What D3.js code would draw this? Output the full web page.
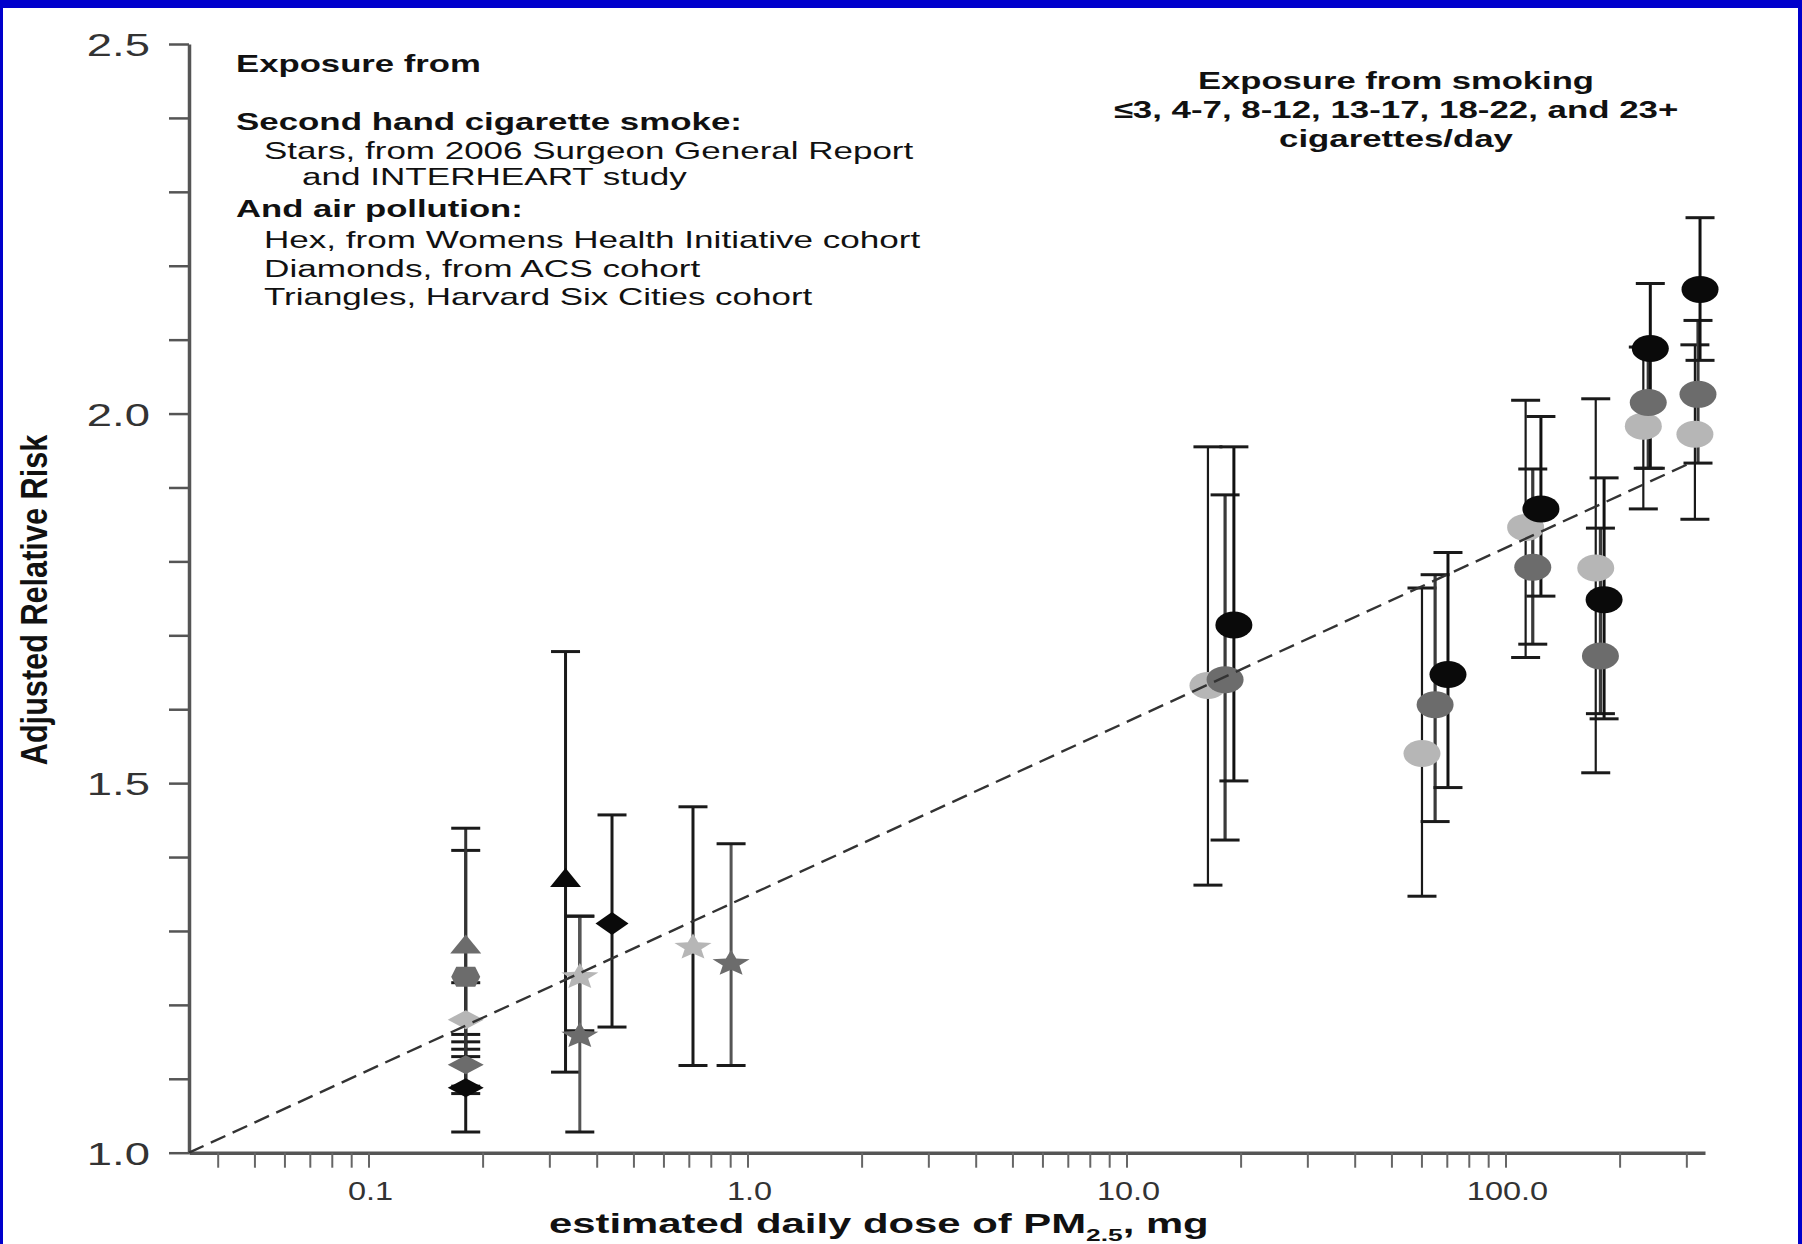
<!DOCTYPE html>
<html><head><meta charset="utf-8">
<script src="https://cdn.jsdelivr.net/npm/d3@7"></script>
<style>html,body{margin:0;padding:0;background:#fff;overflow:hidden}</style>
</head><body>
<svg id="chart" width="1802" height="1244"></svg>
<script>
// ---------------- data ----------------
const xTickValues = [0.1, 1, 10, 100];
const xTickLabels = ["0.1", "1.0", "10.0", "100.0"];
const yTickValues = [1.0, 1.5, 2.0, 2.5];
const yTickLabels = ["1.0", "1.5", "2.0", "2.5"];

// Second hand smoke (stars)
const starDose  = [0.361, 0.361, 0.718, 0.905];
const starRR    = [1.238, 1.158, 1.278, 1.256];
const starLo    = [1.165, 1.028, 1.118, 1.118];
const starHi    = [1.32, 1.32, 1.468, 1.418];
const starShade = ["light", "dark", "light", "dark"];

// Womens Health Initiative (hex)
const hexDose  = [0.1805];
const hexRR    = [1.238];
const hexLo    = [1.09];
const hexHi    = [1.409];
const hexShade = ["dark"];

// ACS cohort (diamonds)
const diaDose  = [0.1805, 0.1805, 0.1805, 0.439];
const diaRR    = [1.18, 1.119, 1.088, 1.31];
const diaLo    = [1.14, 1.08, 1.028, 1.17];
const diaHi    = [1.23, 1.15, 1.16, 1.457];
const diaShade = ["light", "dark", "black", "black"];

// Harvard Six Cities (triangles)
const triDose  = [0.1805, 0.331];
const triRR    = [1.278, 1.368];
const triLo    = [1.13, 1.109];
const triHi    = [1.439, 1.678];
const triShade = ["dark", "black"];

// Active smoking: <=3, 4-7, 8-12, 13-17, 18-22, 23+ cigarettes/day
const cigCategories = ["≤3", "4-7", "8-12", "13-17", "18-22", "23+"];
const smokeBlackDose = [19.2, 70.5, 124, 182, 241, 326];
const smokeBlackRR   = [1.714, 1.647, 1.871, 1.748, 2.088, 2.168];
const smokeBlackLo   = [1.503, 1.494, 1.753, 1.587, 1.926, 2.072];
const smokeBlackHi   = [1.955, 1.812, 1.996, 1.913, 2.176, 2.265];
const smokeDarkDose  = [18.2, 65.2, 118, 178, 238, 322];
const smokeDarkRR    = [1.640, 1.606, 1.792, 1.672, 2.015, 2.026];
const smokeDarkLo    = [1.423, 1.448, 1.688, 1.594, 1.926, 1.933];
const smokeDarkHi    = [1.890, 1.782, 1.925, 1.845, 2.09, 2.126];
const smokeLightDose = [16.4, 60.2, 113, 173, 231, 316];
const smokeLightRR   = [1.632, 1.540, 1.846, 1.791, 1.983, 1.972];
const smokeLightLo   = [1.362, 1.347, 1.67, 1.514, 1.871, 1.857];
const smokeLightHi   = [1.955, 1.764, 2.018, 2.02, 2.09, 2.093];

// fitted (dashed) line
const fitDose = [0.0336, 307];
const fitRR   = [1.0, 1.933];

// ---------------- drawing ----------------
const W = 1802, H = 1244;
const FONT = "'Liberation Sans', Arial, Helvetica, sans-serif";
const shadeFill = {black: "#0a0a0a", dark: "#6c6c6c", light: "#b6b6b6"};
const svg = d3.select("#chart");

svg.append("rect").attr("width", W).attr("height", H).attr("fill", "#fff");
const BLUE = "#0000cc";
svg.append("rect").attr("x", 0).attr("y", 0).attr("width", W).attr("height", 8).attr("fill", BLUE);
svg.append("rect").attr("x", 0).attr("y", 0).attr("width", 3).attr("height", H).attr("fill", BLUE);
svg.append("rect").attr("x", W - 4).attr("y", 0).attr("width", 4).attr("height", H).attr("fill", BLUE);

const x = d3.scaleLog().domain([0.0336, 336]).range([189, 1705]);
const y = d3.scaleLinear().domain([1, 2.5]).range([1152.7, 44]);

function fitText(opt, build) {
  const g = svg.append("g").attr("transform",
    `translate(${opt.x},${opt.y})` + (opt.rotate ? ` rotate(${opt.rotate})` : ""));
  const t = g.append("text")
    .attr("text-anchor", opt.anchor || "start")
    .attr("font-family", FONT)
    .attr("font-size", opt.size)
    .attr("font-weight", opt.weight || "normal")
    .attr("fill", opt.fill || "#111");
  if (typeof build === "string") t.text(build); else build(t);
  let k = opt.scale || 1;
  if (opt.width) {
    const w = t.node().getBBox().width;
    k = opt.width / w;
  }
  t.attr("transform", `scale(${k},1)`);
  return g;
}

// ---- axes ----
const yAxis = d3.axisLeft(y).tickValues(d3.range(10, 26).map(d => d / 10))
  .tickSize(20).tickSizeOuter(0).tickFormat("");
const gy = svg.append("g").attr("transform", "translate(189,0)").call(yAxis);
gy.select(".domain").attr("stroke", "#555").attr("stroke-width", 3.5);
gy.selectAll(".tick line").attr("stroke", "#555").attr("stroke-width", 2.5);

const xAxis = d3.axisBottom(x).tickValues(x.ticks()).tickSize(15).tickSizeOuter(0).tickFormat("");
const gx = svg.append("g").attr("transform", `translate(0,${y(1)})`).call(xAxis);
gx.select(".domain").attr("stroke", "#555").attr("stroke-width", 3.5);
gx.selectAll(".tick line").attr("stroke", "#666").attr("stroke-width", 2);

yTickValues.forEach((v, i) => {
  fitText({x: 150, y: y(v) + 12, anchor: "end", size: 32, fill: "#333", scale: 1.42}, yTickLabels[i]);
});
xTickValues.forEach((v, i) => {
  fitText({x: x(v) + 2, y: 1200, anchor: "middle", size: 25, fill: "#333", scale: 1.3}, xTickLabels[i]);
});

// axis titles
fitText({x: 47, y: 600, rotate: -90, anchor: "middle", size: 37, weight: "bold", width: 331},
  "Adjusted Relative Risk");
fitText({x: 549, y: 1233, anchor: "start", size: 27, weight: "bold", width: 660}, t => {
  t.append("tspan").text("estimated daily dose of PM");
  t.append("tspan").attr("font-size", 17).attr("dy", 8).text("2.5");
  t.append("tspan").attr("dy", -8).text(", mg");
});

// legend text
const legendLines = [
  {t: "Exposure from", x: 236, y: 71.7, b: true, w: 245},
  {t: "Second hand cigarette smoke:", x: 236, y: 130, b: true, w: 506},
  {t: "Stars, from 2006 Surgeon General Report", x: 264, y: 159, b: false, w: 650},
  {t: "and INTERHEART study", x: 302, y: 185, b: false, w: 385},
  {t: "And air pollution:", x: 236, y: 216.7, b: true, w: 287},
  {t: "Hex, from Womens Health Initiative cohort", x: 264, y: 248, b: false, w: 657},
  {t: "Diamonds, from ACS cohort", x: 264, y: 276.7, b: false, w: 437},
  {t: "Triangles, Harvard Six Cities cohort", x: 264, y: 305, b: false, w: 549}
];
legendLines.forEach(l => fitText({x: l.x, y: l.y, size: 24, weight: l.b ? "bold" : "normal", width: l.w}, l.t));

const smokeTitle = [
  {t: "Exposure from smoking", y: 89.3, w: 396},
  {t: "≤3, 4-7, 8-12, 13-17, 18-22, and 23+", y: 118.3, w: 565},
  {t: "cigarettes/day", y: 146.7, w: 235}
];
smokeTitle.forEach(l => fitText({x: 1396, y: l.y, anchor: "middle", size: 24, weight: "bold", width: l.w}, l.t));

// ---- marker shapes ----
function starPath(rx, ry) {
  const p = [];
  for (let i = 0; i < 10; i++) {
    const r = i % 2 === 0 ? 1 : 0.45;
    const a = -Math.PI / 2 + i * Math.PI / 5;
    p.push([Math.cos(a) * r * rx, Math.sin(a) * r * ry]);
  }
  return "M" + p.map(q => q[0].toFixed(2) + "," + q[1].toFixed(2)).join("L") + "Z";
}
function diamondPath(w, h) { return `M0,${-h/2}L${w/2},0L0,${h/2}L${-w/2},0Z`; }
function triPath(w, h) { return `M0,${-h*2/3}L${w/2},${h/3}L${-w/2},${h/3}Z`; }
function hexPath(w, h) { const c = 5; return `M${-w/2},0L${-w/2+c},${-h/2}L${w/2-c},${-h/2}L${w/2},0L${w/2-c},${h/2}L${-w/2+c},${h/2}Z`; }
function ellipsePath(rx, ry) { return `M${-rx},0A${rx},${ry} 0 1,0 ${rx},0A${rx},${ry} 0 1,0 ${-rx},0Z`; }

function makeSeries(dose, rr, lo, hi, shade, shape, barStyle) {
  return dose.map((d, i) => ({dose: d, rr: rr[i], lo: lo[i], hi: hi[i], shade: shade[i], shape, barStyle}));
}
const lowBar = s => ({color: s === "dark" ? "#333" : "#1a1a1a", width: 3});
const series = [
  ...makeSeries(diaDose, diaRR, diaLo, diaHi, diaShade, "diamond", lowBar),
  ...makeSeries(hexDose, hexRR, hexLo, hexHi, hexShade, "hex", lowBar),
  ...makeSeries(triDose, triRR, triLo, triHi, triShade, "triangle", lowBar),
  ...makeSeries(starDose, starRR, starLo, starHi, starShade, "star",
      s => ({color: s === "dark" ? "#555" : "#1a1a1a", width: 3})),
  ...makeSeries(smokeLightDose, smokeLightRR, smokeLightLo, smokeLightHi, smokeLightDose.map(() => "light"), "circle",
      () => ({color: "#1a1a1a", width: 2.2})),
  ...makeSeries(smokeDarkDose, smokeDarkRR, smokeDarkLo, smokeDarkHi, smokeDarkDose.map(() => "dark"), "circle",
      () => ({color: "#3a3a3a", width: 3.2})),
  ...makeSeries(smokeBlackDose, smokeBlackRR, smokeBlackLo, smokeBlackHi, smokeBlackDose.map(() => "black"), "circle",
      () => ({color: "#111", width: 3}))
];

// error bars
const CAP = 29;
const gBars = svg.append("g");
series.forEach(d => {
  const st = d.barStyle(d.shade);
  const cx = x(d.dose);
  gBars.append("line").attr("x1", cx).attr("x2", cx).attr("y1", y(d.lo)).attr("y2", y(d.hi))
    .attr("stroke", st.color).attr("stroke-width", st.width);
  [d.lo, d.hi].forEach(v => {
    gBars.append("line").attr("x1", cx - CAP / 2).attr("x2", cx + CAP / 2).attr("y1", y(v)).attr("y2", y(v))
      .attr("stroke", "#1a1a1a").attr("stroke-width", 3);
  });
});

// markers
const gMarks = svg.append("g");
series.forEach(d => {
  let p;
  if (d.shape === "circle") p = ellipsePath(18.5, 13.5);
  else if (d.shape === "star") p = starPath(19.5, 13.8);
  else if (d.shape === "diamond") p = d.dose > 0.3 ? diamondPath(33, 23) : diamondPath(36, 19);
  else if (d.shape === "triangle") p = triPath(31, 19);
  else p = hexPath(29, 20);
  gMarks.append("path").attr("d", p)
    .attr("transform", `translate(${x(d.dose)},${y(d.rr)})`)
    .attr("fill", shadeFill[d.shade]);
});

// dashed fitted line
const line = d3.line().x(d => x(d[0])).y(d => y(d[1]));
svg.append("path").attr("d", line(fitDose.map((d, i) => [d, fitRR[i]])))
  .attr("fill", "none").attr("stroke", "#333").attr("stroke-width", 2.4)
  .attr("stroke-dasharray", "16,8");
</script>
</body></html>
